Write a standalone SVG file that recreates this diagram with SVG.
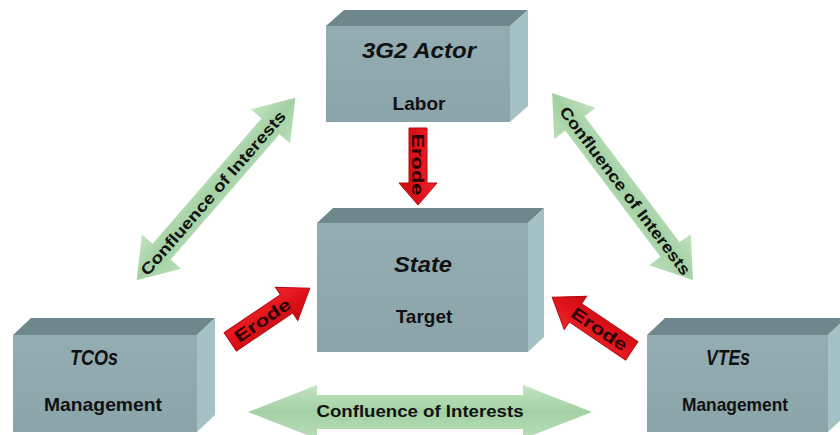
<svg xmlns="http://www.w3.org/2000/svg" width="840" height="435" viewBox="0 0 840 435">
<defs>
<linearGradient id="gFront" x1="0" y1="0" x2="0" y2="1">
<stop offset="0" stop-color="#93adb2"/><stop offset="1" stop-color="#8aa4a9"/>
</linearGradient>
<linearGradient id="gGreen" x1="0" y1="0" x2="0" y2="1">
<stop offset="0" stop-color="#c2e4c2"/><stop offset="0.5" stop-color="#a3d0a3"/><stop offset="1" stop-color="#b9dfb9"/>
</linearGradient>
<linearGradient id="gRed" x1="0" y1="0" x2="0" y2="1">
<stop offset="0" stop-color="#f0262c"/><stop offset="0.5" stop-color="#e0121a"/><stop offset="1" stop-color="#c80c12"/>
</linearGradient>
</defs>
<style>
.front{fill:url(#gFront);}
.top{fill:#6f878c;}
.side{fill:#a4c2c6;}
.title{font-family:"Liberation Sans",Arial,sans-serif;font-weight:bold;font-style:italic;font-size:22px;fill:#111;text-anchor:middle;}
.sub{font-family:"Liberation Sans",Arial,sans-serif;font-weight:bold;font-size:19px;fill:#111;text-anchor:middle;}
.green{fill:url(#gGreen);}
.red{fill:url(#gRed);stroke:#b80a10;stroke-width:1;}
.glabel{font-family:"Liberation Sans",Arial,sans-serif;font-weight:bold;font-size:16px;fill:#111;text-anchor:middle;}
.rlabel{font-family:"Liberation Sans",Arial,sans-serif;font-weight:bold;font-size:17px;fill:#2a0000;text-anchor:middle;}
</style>
<rect width="840" height="435" fill="#ffffff"/>

<g id="node-3g2-actor">
<polygon class="top" points="326,26 344,10 528,10 510,26"/>
<polygon class="side" points="510,26 528,10 528,106 510,122"/>
<rect class="front" x="326" y="26" width="184" height="96"/>
<text class="title" x="419" y="58" textLength="114" lengthAdjust="spacingAndGlyphs">3G2 Actor</text>
<text class="sub" x="419" y="110">Labor</text>
</g>

<g id="node-state">
<polygon class="top" points="317,223 333,208 544,208 528,223"/>
<polygon class="side" points="528,223 544,208 544,337 528,352"/>
<rect class="front" x="317" y="223" width="211" height="129"/>
<text class="title" x="423" y="272" textLength="58" lengthAdjust="spacingAndGlyphs">State</text>
<text class="sub" x="424" y="323">Target</text>
</g>

<g id="node-tcos">
<polygon class="top" points="13,335 31,318 215,318 197,335"/>
<polygon class="side" points="197,335 215,318 215,415 197,432"/>
<rect class="front" x="13" y="335" width="184" height="97"/>
<text class="title" x="94" y="365" textLength="48" lengthAdjust="spacingAndGlyphs">TCOs</text>
<text class="sub" x="103" y="411" textLength="118" lengthAdjust="spacingAndGlyphs">Management</text>
</g>

<g id="node-vtes">
<polygon class="top" points="647,335 665,318 846,318 828,335"/>
<polygon class="side" points="828,335 846,318 846,415 828,432"/>
<rect class="front" x="647" y="335" width="181" height="97"/>
<text class="title" x="728" y="365" textLength="44" lengthAdjust="spacingAndGlyphs">VTEs</text>
<text class="sub" x="735" y="411" textLength="106" lengthAdjust="spacingAndGlyphs">Management</text>
</g>

<g id="connectors">
<g transform="translate(216,189) rotate(-49)">
<path class="green" d="M-121,0 L-83,-26 L-83,-12 L83,-12 L83,-26 L121,0 L83,26 L83,12 L-83,12 L-83,26 Z"/>
<text class="glabel" x="-5" y="6" textLength="212" lengthAdjust="spacingAndGlyphs">Confluence of Interests</text>
</g>
<g transform="translate(622.5,186.5) rotate(53)">
<path class="green" d="M-117,0 L-79,-26 L-79,-12 L79,-12 L79,-26 L117,0 L79,26 L79,12 L-79,12 L-79,26 Z"/>
<text class="glabel" x="5" y="6" textLength="206" lengthAdjust="spacingAndGlyphs">Confluence of Interests</text>
</g>
<g transform="translate(420,412)">
<path class="green" d="M-172,0 L-103,-27 L-103,-17 L103,-17 L103,-27 L172,0 L103,27 L103,17 L-103,17 L-103,27 Z"/>
<text class="glabel" x="0" y="5" font-size="17" textLength="207" lengthAdjust="spacingAndGlyphs">Confluence of Interests</text>
</g>

<g transform="translate(418,166.5) rotate(90)">
<path class="red" d="M-38.5,-9 L16.5,-9 L16.5,-19 L38.5,0 L16.5,19 L16.5,9 L-38.5,9 Z"/>
<text class="rlabel" x="-2" y="6" font-size="16" textLength="62" lengthAdjust="spacingAndGlyphs">Erode</text>
</g>
<g transform="translate(270,315) rotate(-34)">
<path class="red" d="M-48,-11 L20,-11 L20,-20 L48,0 L20,20 L20,11 L-48,11 Z"/>
<text class="rlabel" x="-9" y="6" textLength="64" lengthAdjust="spacingAndGlyphs">Erode</text>
</g>
<g transform="translate(592,324) rotate(214)">
<path class="red" d="M-48,-11 L20,-11 L20,-20 L48,0 L20,20 L20,11 L-48,11 Z"/>
</g>
<g transform="translate(592,324) rotate(34)">
<text class="rlabel" x="9" y="6" textLength="64" lengthAdjust="spacingAndGlyphs">Erode</text>
</g>
</g>
</svg>
